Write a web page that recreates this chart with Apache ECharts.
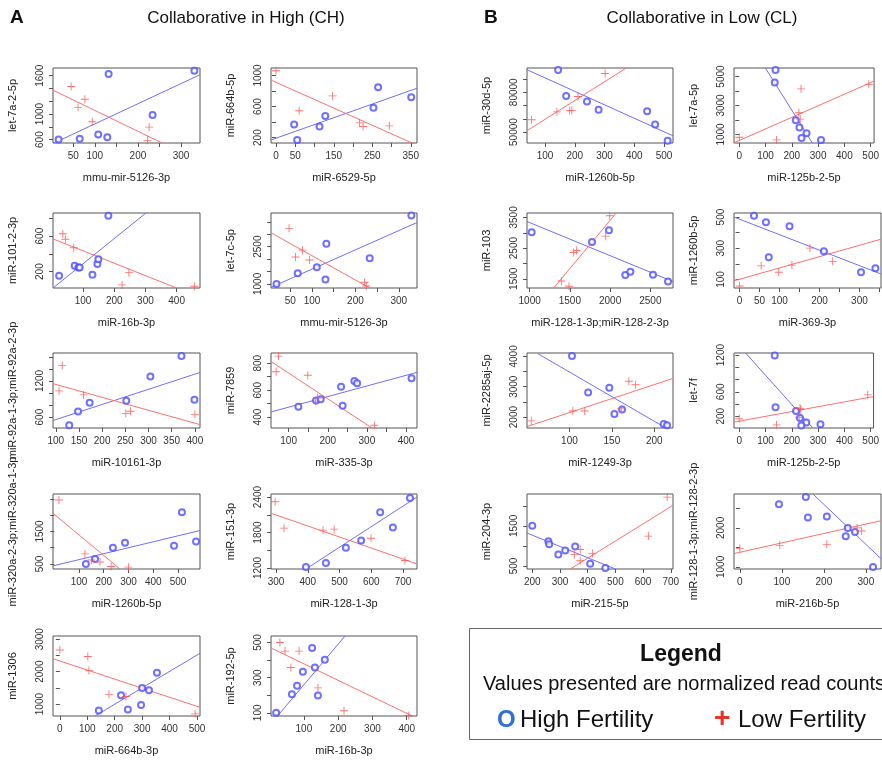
<!DOCTYPE html>
<html><head><meta charset="utf-8">
<script src="https://cdn.jsdelivr.net/npm/echarts@6/dist/echarts.min.js"></script>
<style>html,body{margin:0;padding:0;background:#fff}#c{width:882px;height:762px}</style>
</head><body><div id="c"></div>
<script>
// ---------------- DATA ----------------
const yNames = ['let-7a-2-5p','miR-664b-5p','miR-30d-5p','let-7a-5p',
 'miR-101-2-3p','let-7c-5p','miR-103','miR-1260b-5p',
 'miR-92a-1-3p;miR-92a-2-3p','miR-7859','miR-2285aj-5p','let-7f',
 'miR-320a-2-3p;miR-320a-1-3p','miR-151-3p','miR-204-3p','miR-128-1-3p;miR-128-2-3p',
 'miR-1306','miR-192-5p'];
const xNames = ['mmu-mir-5126-3p','miR-6529-5p','miR-1260b-5p','miR-125b-2-5p',
 'miR-16b-3p','mmu-mir-5126-3p','miR-128-1-3p;miR-128-2-3p','miR-369-3p',
 'miR-10161-3p','miR-335-3p','miR-1249-3p','miR-125b-2-5p',
 'miR-1260b-5p','miR-128-1-3p','miR-215-5p','miR-216b-5p',
 'miR-664b-3p','miR-16b-3p'];

const highFertility = [
 [[16,600],[65,615],[108,680],[129,637],[132,1626],[234,984],[331,1679]],
 [[47,369],[55,170],[113,343],[128,477],[253,585],[265,849],[351,719]],
 [[144,96700],[171,77100],[241,73000],[280,66800],[443,65700],[470,55700],[512,43500]],
 [[138,5450],[135,4580],[215,1990],[229,1490],[256,1090],[237,765],[311,625]],
 [[23,154],[73,265],[85,246],[89,246],[130,165],[146,285],[149,338],[181,831]],
 [[18,1000],[67,1426],[111,1673],[133,2621],[131,1179],[233,2030],[329,3761]],
 [[1025,3020],[1775,2700],[1986,3080],[2189,1620],[2252,1730],[2533,1630],[2720,1410]],
 [[36,509],[66,467],[125,441],[73,242],[211,281],[304,146],[340,172]],
 [[129,464],[148,691],[173,838],[252,872],[304,1273],[371,1613],[399,889]],
 [[125,476],[170,524],[182,532],[234,625],[238,484],[268,668],[275,651],[414,689]],
 [[103,4010],[122,2810],[147,2966],[153,2100],[162,2247],[211,1775],[215,1730]],
 [[135,1194],[138,347],[216,285],[231,172],[255,98],[236,47],[309,70]],
 [[128,500],[165,656],[237,1000],[286,1156],[484,1062],[516,2094],[573,1188]],
 [[394,1217],[457,1286],[520,1543],[568,1663],[628,2143],[668,1886],[722,2383]],
 [[200,1500],[258,1115],[261,1038],[294,782],[319,885],[355,987],[409,551],[464,450]],
 [[93,2605],[157,2789],[162,2263],[207,2289],[252,1789],[257,2000],[274,1895],[317,1000]],
 [[142,800],[223,1270],[248,830],[296,970],[325,1430],[354,1970],[300,1500]],
 [[19,100],[65,205],[80,254],[97,334],[124,469],[141,198],[132,358],[161,402]]
];
const lowFertility = [
 [[45,1432],[61,1105],[77,1232],[94,879],[226,795],[222,589]],
 [[0,1061],[60,546],[147,737],[217,390],[226,343],[294,352]],
 [[55,59300],[140,65200],[183,66300],[190,66300],[211,76800],[302,94100]],
 [[0,810],[142,625],[235,4150],[227,2500],[232,2060],[493,4460]],
 [[35,627],[43,565],[70,469],[247,188],[225,50],[457,35]],
 [[47,3239],[62,2085],[78,2360],[94,1962],[221,1069],[225,918]],
 [[1394,1430],[1489,1256],[1547,2356],[1584,2420],[1945,2890],[1995,3556]],
 [[0,58],[54,187],[98,146],[131,192],[176,301],[233,216]],
 [[107,1036],[114,1455],[160,968],[251,662],[261,696],[400,645]],
 [[74,853],[68,737],[149,711],[169,519],[174,544],[319,339]],
 [[55,1876],[104,2202],[118,2202],[161,2270],[170,3180],[178,3067]],
 [[0,160],[142,59],[231,330],[234,313],[228,177],[489,550]],
 [[19,2470],[124,810],[150,620],[185,560],[230,420],[300,400]],
 [[297,2320],[325,1874],[448,1840],[483,1857],[599,1703],[706,1326]],
 [[352,782],[373,628],[373,910],[417,808],[619,1244],[687,2218]],
 [[0,1474],[95,1553],[207,1579],[279,2000],[290,1921]],
 [[0,2667],[106,2033],[102,2467],[179,1300],[241,1233],[493,700]],
 [[30,500],[45,451],[62,358],[86,451],[141,242],[217,112],[406,85]]
];
// fitted regression lines (two end points each)
const highFit = [
 [[3,540],[344,1616]], [[-13,170],[366,836]], [[39.5,96970],[530,47160]], [[99.5,5588],[278,412]],
 [[3.5,15],[301.5,861]], [[5.4,863],[342,3473]], [[967,3367],[2782,1411]], [[-14,500],[354,135]],
 [[94,543],[411,1341]], [[55,438],[428,732]], [[62.7,4090],[213.7,1640]], [[24,1234],[280,8]],
 [[-5,440],[589,1530]], [[394,1183],[744,2400]], [[181,1321],[500,423]], [[174,2868],[336,1210]],
 [[128,633],[511,2567]], [[4,38],[220,537]]
];
const lowFit = [
 [[1.7,1379],[256,547]], [[-13,940],[366,103]], [[39.5,51030],[373,98260]], [[-21.8,412],[514.5,4694]],
 [[3.5,569],[400,15]], [[5.4,3060],[233,835]], [[1298,1200],[2077,3644]], [[-14,91],[354,358]],
 [[94,1155],[411,475]], [[55,813],[313,319]], [[49.8,1685],[221.6,3270]], [[-20,104],[511,522]],
 [[-5,2060],[266,344]], [[284,2126],[744,1269]], [[337,423],[708,2013]], [[-14,1342],[336,2184]],
 [[-25,2400],[511,900]], [[4,469],[430,69]]
];
const xRange = [[3,344],[-13,366],[39.5,530],[-20,513],[3.5,475],[5.4,342],[967,2782],[-14,354],
 [94,411],[55,428],[50,222],[-20,511],[-5,589],[284,744],[181,708],[-14,336],[-25,511],[4,430]];
const yRange = [[547,1721],[131,1096],[41742,98258],[412,5588],[15,861],[835,3857],[1200,3644],[45,526],
 [419,1664],[319,876],[1640,4112],[8,1234],[344,2656],[1183,2451],[423,2295],[947,2868],[633,3100],[82,537]];
const xTicks = [
 [50,100,150,200,250,300],[0,50,100,150,200,250,300,350],[100,200,300,400,500],[0,100,200,300,400,500],
 [100,200,300,400],[50,100,150,200,250,300],[1000,1500,2000,2500],[0,50,100,150,200,250,300,350],
 [100,150,200,250,300,350,400],[100,150,200,250,300,350,400],[100,150,200],[0,100,200,300,400,500],
 [100,200,300,400,500],[300,400,500,600,700],[200,300,400,500,600,700],[0,100,200,300],
 [0,100,200,300,400,500],[100,200,300,400]
];
const xTickLabels = [
 [50,100,200,300],[0,50,150,250,350],[100,200,300,400,500],[0,100,200,300,400,500],
 [100,200,300,400],[50,100,200,300],[1000,1500,2000,2500],[0,50,100,200,300],
 [100,150,200,250,300,350,400],[100,200,300,400],[100,150,200],[0,100,200,300,400,500],
 [100,200,300,400,500],[300,400,500,600,700],[200,300,400,500,600,700],[0,100,200,300],
 [0,100,200,300,400,500],[100,200,300,400]
];
const yTicks = [
 [600,800,1000,1200,1400,1600],[200,400,600,800,1000],[50000,60000,70000,80000,90000],[1000,2000,3000,4000,5000],
 [200,400,600,800],[1000,1500,2000,2500,3000,3500],[1500,2000,2500,3000,3500],[100,200,300,400,500],
 [600,800,1000,1200,1400,1600],[400,500,600,700,800],[2000,2500,3000,3500,4000],[200,400,600,800,1000,1200],
 [500,1000,1500,2000,2500],[1200,1500,1800,2100,2400],[500,1000,1500,2000],[1000,1500,2000,2500],
 [1000,1500,2000,2500,3000],[100,200,300,400,500]
];
const yTickLabels = [
 [600,1000,1600],[200,600,1000],[50000,80000],[1000,3000,5000],
 [200,600],[1000,2500],[1500,2500,3500],[100,300,500],
 [600,1200],[400,600,800],[2000,3000,4000],[200,600,1200],
 [500,1500],[1200,1800,2400],[500,1500],[1000,2000],
 [1000,2000,3000],[100,300,500]
];

// ---------------- LAYOUT ----------------
const colX = [53, 271, 527, 734];
const colW = [147, 146, 146, 147];
const rowY = [68, 213, 353, 494, 636];
const rowH = [75, 75, 75, 75, 80];
const BLUE = '#4d4dff', BLUE_L = '#6f6fff', RED = '#ff4d4d', RED_L = '#ff7070';
const FONT = '"Liberation Sans", Arial, Helvetica, sans-serif';
const CROSS = 'path://M0,4.45H10V5.55H0Z M4.45,0H5.55V10H4.45Z';
const plain = v => String(v);

const grids = [], xAxes = [], yAxes = [], series = [];
yNames.forEach((yn, i) => {
  const col = i % 4, row = Math.floor(i / 4);
  grids.push({left: colX[col], top: rowY[row], width: colW[col], height: rowH[row],
    show: true, borderColor: '#555', borderWidth: 1, backgroundColor: 'transparent'});
  const common = {gridIndex: i, type: 'value', splitLine: {show: false},
    axisLine: {show: false}, nameLocation: 'middle',
    nameTextStyle: {fontSize: 11, color: '#222', fontFamily: FONT}};
  xAxes.push(Object.assign({}, common, {
    min: xRange[i][0], max: xRange[i][1], name: xNames[i], nameGap: 29,
    axisTick: {show: true, length: 4, customValues: xTicks[i], lineStyle: {color: '#555'}},
    axisLabel: {customValues: xTickLabels[i], formatter: plain, margin: 8, fontSize: 10, color: '#333', fontFamily: FONT}
  }));
  yAxes.push(Object.assign({}, common, {
    min: yRange[i][0], max: yRange[i][1], name: yn, nameGap: 35,
    axisTick: {show: true, length: 4, customValues: yTicks[i], lineStyle: {color: '#555'}},
    axisLabel: {customValues: yTickLabels[i], formatter: plain, rotate: 90, margin: 8, fontSize: 10, color: '#333', fontFamily: FONT}
  }));
  series.push({type: 'line', xAxisIndex: i, yAxisIndex: i, data: highFit[i], showSymbol: false,
    lineStyle: {color: BLUE_L, width: 1}, clip: true, silent: true, z: 1});
  series.push({type: 'line', xAxisIndex: i, yAxisIndex: i, data: lowFit[i], showSymbol: false,
    lineStyle: {color: RED_L, width: 1}, clip: true, silent: true, z: 1});
  series.push({type: 'scatter', xAxisIndex: i, yAxisIndex: i, data: highFertility[i],
    symbol: 'emptyCircle', symbolSize: 6, itemStyle: {color: BLUE, borderColor: BLUE, borderWidth: 1}, silent: true, z: 3});
  series.push({type: 'scatter', xAxisIndex: i, yAxisIndex: i, data: lowFertility[i],
    symbol: CROSS, symbolSize: 8, itemStyle: {color: RED}, silent: true, z: 3});
});

const graphic = [
  {type: 'text', left: 10, top: 8, style: {text: 'A', fontSize: 19, fontWeight: 'bold', fill: '#111', fontFamily: FONT}},
  {type: 'text', left: 484, top: 8, style: {text: 'B', fontSize: 19, fontWeight: 'bold', fill: '#111', fontFamily: FONT}},
  {type: 'text', x: 246, y: 18, style: {text: 'Collaborative in High (CH)', fontSize: 17, fill: '#111', fontFamily: FONT, align: 'center', verticalAlign: 'middle'}},
  {type: 'text', x: 702, y: 18, style: {text: 'Collaborative in Low (CL)', fontSize: 17, fill: '#111', fontFamily: FONT, align: 'center', verticalAlign: 'middle'}},
  {type: 'rect', shape: {x: 469.5, y: 628.5, width: 420, height: 111}, style: {fill: 'none', stroke: '#666', lineWidth: 1}},
  {type: 'text', x: 681, y: 655, style: {text: 'Legend', fontSize: 23, fontWeight: 'bold', fill: '#111', fontFamily: FONT, align: 'center', verticalAlign: 'middle'}},
  {type: 'text', x: 483, y: 684, style: {text: 'Values presented are normalized read counts', fontSize: 20, fill: '#111', fontFamily: FONT, align: 'left', verticalAlign: 'middle'}},
  {type: 'text', x: 497, y: 720, style: {text: 'O', fontSize: 24, fontWeight: 'bold', fill: '#2f6fd6', fontFamily: FONT, align: 'left', verticalAlign: 'middle'}},
  {type: 'text', x: 520, y: 720, style: {text: 'High Fertility', fontSize: 24, fill: '#111', fontFamily: FONT, align: 'left', verticalAlign: 'middle'}},
  {type: 'text', x: 714, y: 719, style: {text: '+', fontSize: 28, fontWeight: 'bold', fill: '#e8322a', fontFamily: FONT, align: 'left', verticalAlign: 'middle'}},
  {type: 'text', x: 738, y: 720, style: {text: 'Low Fertility', fontSize: 24, fill: '#111', fontFamily: FONT, align: 'left', verticalAlign: 'middle'}}
];

const chart = echarts.init(document.getElementById('c'), null, {renderer: 'canvas'});
chart.setOption({animation: false, backgroundColor: '#fff', textStyle: {fontFamily: FONT},
  grid: grids, xAxis: xAxes, yAxis: yAxes, series: series, graphic: graphic});
</script></body></html>
